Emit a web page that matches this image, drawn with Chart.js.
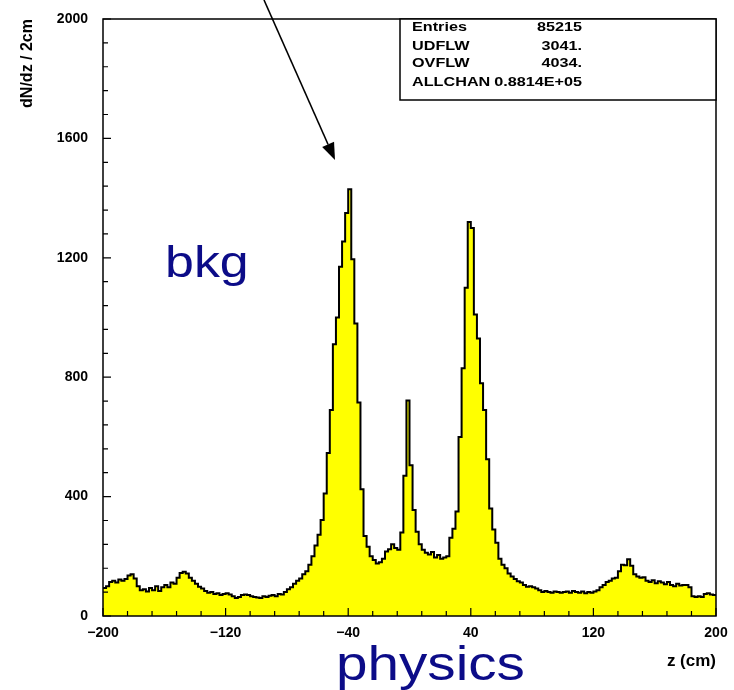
<!DOCTYPE html>
<html lang="en">
<head>
<meta charset="UTF-8">
<title>dN/dz vs z</title>
<script src="https://cdn.jsdelivr.net/npm/chart.js"></script>
<style>
  html, body { margin: 0; padding: 0; background: #fff; }
  #wrap { position: relative; width: 734px; height: 690px; }
</style>
</head>
<body>
<div id="wrap"><canvas id="zChart" width="734" height="690"></canvas></div>
<script>
// histogram: 200 bins of 2 cm from -200 to 200
const binLow = -200;
const binWidth = 2;
const counts = [
  94, 100, 114, 118, 112, 122, 118, 124, 136, 140,
  126, 100, 86, 90, 82, 94, 86, 100, 84, 96,
  104, 96, 112, 108, 128, 144, 148, 142, 128, 118,
  108, 98, 92, 84, 78, 80, 74, 76, 70, 74,
  76, 72, 66, 60, 64, 70, 72, 70, 66, 64,
  62, 60, 66, 64, 68, 70, 66, 74, 72, 80,
  90, 96, 108, 118, 126, 140, 150, 172, 200, 236,
  272, 322, 410, 546, 690, 910, 1000, 1170, 1255, 1350,
  1430, 1195, 980, 715, 425, 268, 232, 200, 188, 176,
  180, 192, 216, 224, 240, 228, 222, 280, 470, 722,
  505, 355, 282, 240, 222, 212, 206, 214, 196, 204,
  192, 196, 200, 262, 292, 350, 600, 830, 1100, 1320,
  1300, 1010, 930, 780, 690, 525, 360, 290, 245, 192,
  172, 160, 142, 132, 124, 116, 112, 104, 98, 100,
  96, 92, 86, 80, 84, 80, 78, 82, 80, 78,
  80, 82, 78, 84, 80, 78, 82, 76, 80, 78,
  82, 86, 96, 104, 114, 118, 126, 128, 150, 172,
  170, 190, 168, 140, 132, 128, 130, 118, 114, 120,
  110, 116, 112, 106, 114, 104, 100, 108, 102, 104,
  104, 96, 66, 64, 66, 64, 74, 76, 72, 70
];
const xTicks = [-200, -120, -40, 40, 120, 200];
const yTicks = [0, 400, 800, 1200, 1600, 2000];
const statNames = ['Entries', 'UDFLW', 'OVFLW', 'ALLCHAN'];
const statValues = ['85215', '3041.', '4034.', '0.8814E+05'];

const points = counts.map((v, i) => ({ x: binLow + i * binWidth, y: v }));
points.push({ x: binLow + counts.length * binWidth, y: counts[counts.length - 1] });

const tickFont = { family: 'Liberation Sans', weight: 'bold', size: 14 };
const navy = '#0c0c88';

// frame, inward ticks, stats box, arrow and labels
const decorations = {
  id: 'decorations',
  afterDraw(chart) {
    const ctx = chart.ctx;
    const a = chart.chartArea;
    const xs = chart.scales.x, ys = chart.scales.y;
    ctx.save();
    ctx.strokeStyle = '#000';
    ctx.lineWidth = 1.5;
    ctx.strokeRect(a.left, a.top, a.right - a.left, a.bottom - a.top);

    ctx.lineWidth = 1.2;
    ctx.beginPath();
    for (let v = xs.min; v <= xs.max; v += 16) {
      const px = xs.getPixelForValue(v);
      const len = (v - xs.min) % 80 === 0 ? 8 : 5;
      ctx.moveTo(px, a.bottom);
      ctx.lineTo(px, a.bottom - len);
    }
    for (let v = ys.min; v <= ys.max; v += 80) {
      const py = ys.getPixelForValue(v);
      const len = v % 400 === 0 ? 8 : 5;
      ctx.moveTo(a.left, py);
      ctx.lineTo(a.left + len, py);
    }
    ctx.stroke();

    // stats box
    const bx = 400, by = a.top, bw = a.right - bx, bh = 81;
    ctx.fillStyle = '#fff';
    ctx.fillRect(bx, by, bw, bh);
    ctx.lineWidth = 1.5;
    ctx.strokeRect(bx, by, bw, bh);
    ctx.fillStyle = '#000';
    ctx.font = 'bold 12px "Liberation Sans"';
    ctx.textBaseline = 'middle';
    const rowY = [9, 28, 45, 64];
    statNames.forEach((name, i) => {
      ctx.save();
      ctx.translate(bx + 12, by + rowY[i]);
      ctx.scale(1.35, 1);
      ctx.textAlign = 'left';
      ctx.fillText(name, 0, 0);
      ctx.restore();
      ctx.save();
      ctx.translate(bx + 182, by + rowY[i]);
      ctx.scale(1.35, 1);
      ctx.textAlign = 'right';
      ctx.fillText(statValues[i], 0, 0);
      ctx.restore();
    });

    // arrow
    const tx = 335, ty = 160, sx = 264, sy = 0;
    const ang = Math.atan2(ty - sy, tx - sx);
    const hl = 17, hw = 6.5;
    const bxp = tx - hl * Math.cos(ang), byp = ty - hl * Math.sin(ang);
    ctx.lineWidth = 1.6;
    ctx.beginPath();
    ctx.moveTo(sx, sy);
    ctx.lineTo(bxp, byp);
    ctx.stroke();
    ctx.beginPath();
    ctx.moveTo(tx, ty);
    ctx.lineTo(bxp + hw * Math.sin(ang), byp - hw * Math.cos(ang));
    ctx.lineTo(bxp - hw * Math.sin(ang), byp + hw * Math.cos(ang));
    ctx.closePath();
    ctx.fill();

    // blue annotations
    ctx.fillStyle = navy;
    ctx.textAlign = 'left';
    ctx.textBaseline = 'alphabetic';
    ctx.save();
    ctx.translate(165, 277);
    ctx.scale(1.18, 1);
    ctx.font = '44px "Liberation Sans"';
    ctx.fillText('bkg', 0, 0);
    ctx.restore();
    ctx.save();
    ctx.translate(336, 680);
    ctx.scale(1.18, 1);
    ctx.font = '48px "Liberation Sans"';
    ctx.fillText('physics', 0, 0);
    ctx.restore();
    ctx.restore();
  }
};

new Chart(document.getElementById('zChart'), {
  type: 'line',
  data: {
    datasets: [{
      data: points,
      stepped: 'before',
      fill: 'origin',
      backgroundColor: '#ffff00',
      borderColor: '#000',
      borderWidth: 2,
      pointRadius: 0
    }]
  },
  options: {
    responsive: false,
    animation: false,
    layout: { padding: { top: 19, right: 18, bottom: 0, left: 0 } },
    plugins: { legend: { display: false }, tooltip: { enabled: false } },
    scales: {
      x: {
        type: 'linear',
        min: -200,
        max: 200,
        afterBuildTicks: s => { s.ticks = xTicks.map(v => ({ value: v })); },
        afterFit: s => { s.height = 74; s.paddingLeft = 0; s.paddingRight = 0; },
        grid: { display: false, drawTicks: false },
        border: { display: false },
        ticks: {
          padding: 9, color: '#000', font: tickFont, maxRotation: 0, autoSkip: false,
          callback: v => v < 0 ? '\u2212' + Math.abs(v) : String(v)
        },
        title: {
          display: true, text: 'z (cm)', align: 'end', color: '#000',
          font: { family: 'Liberation Sans', weight: 'bold', size: 17 },
          padding: { top: 0, bottom: 18 }
        }
      },
      y: {
        min: 0,
        max: 2000,
        afterBuildTicks: s => { s.ticks = yTicks.map(v => ({ value: v })); },
        afterFit: s => { s.width = 103; s.paddingTop = 0; s.paddingBottom = 0; },
        grid: { display: false, drawTicks: false },
        border: { display: false },
        ticks: {
          padding: 15, color: '#000', font: tickFont, autoSkip: false,
          callback: v => String(v)
        },
        title: {
          display: true, text: 'dN/dz / 2cm', align: 'end', color: '#000',
          font: { family: 'Liberation Sans', weight: 'bold', size: 16 },
          padding: { top: 18, bottom: 0 }
        }
      }
    }
  },
  plugins: [decorations]
});
</script>
</body>
</html>
